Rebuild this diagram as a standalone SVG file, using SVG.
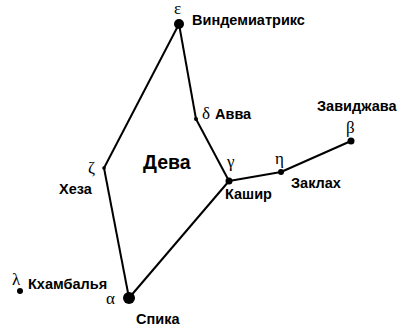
<svg xmlns="http://www.w3.org/2000/svg" width="403" height="328" viewBox="0 0 403 328">
<style>
.l{font-family:"Liberation Sans",Arial,sans-serif;font-weight:bold;font-size:14.5px;fill:#000}
.g{font-family:"Liberation Serif","Times New Roman",serif;font-size:17px;fill:#000}
.e{stroke:#000;stroke-width:2;fill:none}
</style>
<rect width="403" height="328" fill="#fff"/>
<g id="connectors">
<line class="e" x1="179" y1="24" x2="196" y2="119"/>
<line class="e" x1="196" y1="119" x2="229" y2="181"/>
<line class="e" x1="229" y1="181" x2="281" y2="172"/>
<line class="e" x1="281" y1="172" x2="351" y2="141"/>
<line class="e" x1="229" y1="181" x2="129" y2="298"/>
<line class="e" x1="129" y1="298" x2="104" y2="168"/>
<line class="e" x1="104" y1="168" x2="179" y2="24"/>
</g>
<g id="epsilon"><circle cx="179" cy="24" r="5"/><text class="g" x="174" y="14">ε</text><text class="l" x="192" y="25">Виндемиатрикс</text></g>
<g id="delta"><circle cx="196" cy="119" r="2"/><text class="g" x="202" y="119">δ</text><text class="l" x="215" y="119">Авва</text></g>
<g id="gamma"><circle cx="229" cy="181" r="3.5"/><text class="g" x="227" y="167">γ</text><text class="l" x="225" y="199">Кашир</text></g>
<g id="eta"><circle cx="281" cy="172" r="3"/><text class="g" x="275" y="164">η</text><text class="l" x="291" y="188">Заклах</text></g>
<g id="beta"><circle cx="351" cy="141" r="3.5"/><text class="g" x="346" y="133">β</text><text class="l" x="317" y="111">Завиджава</text></g>
<g id="zeta"><circle cx="104" cy="168" r="1.8"/><text class="g" x="88" y="173">ζ</text><text class="l" x="59" y="194">Хеза</text></g>
<g id="alpha"><circle cx="129" cy="298" r="6"/><text class="g" x="106" y="304">α</text><text class="l" x="136" y="324">Спика</text></g>
<g id="lambda"><circle cx="20" cy="291" r="3"/><text class="g" x="12" y="285">λ</text><text class="l" x="28" y="289">Кхамбалья</text></g>
<g id="virgo"><text class="l" x="143" y="169" style="font-size:19.5px">Дева</text></g>
</svg>
